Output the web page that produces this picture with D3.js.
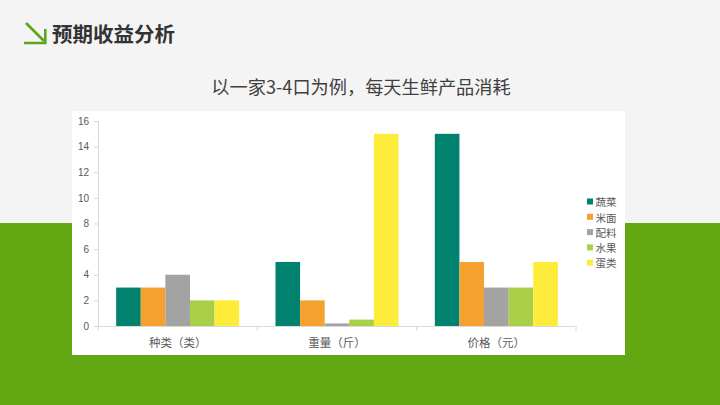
<!DOCTYPE html>
<html><head><meta charset="utf-8">
<script src="https://cdn.jsdelivr.net/npm/d3@7/dist/d3.min.js"></script>
<style>html,body{margin:0;padding:0;background:#f4f4f4;}svg{display:block;font-family:"Noto Sans CJK SC","Noto Sans",sans-serif;}</style>
</head><body>
<svg id="c" width="720" height="405"></svg>
<script>
const categories = ["种类（类）", "重量（斤）", "价格（元）"];
const seriesNames = ["蔬菜", "米面", "配料", "水果", "蛋类"];
const seriesColors = ["#00826f", "#f4a130", "#a3a3a3", "#a9cf48", "#fdec3a"];
const values = [
  [3, 5, 15],     // 蔬菜
  [3, 2, 5],      // 米面
  [4, 0.2, 3],    // 配料
  [2, 0.5, 3],    // 水果
  [2, 15, 5]      // 蛋类
];
const yTicks = [0, 2, 4, 6, 8, 10, 12, 14, 16];
const title = "预期收益分析";
const subtitle = "以一家3-4口为例，每天生鲜产品消耗";

const svg = d3.select("#c");
// background
svg.append("rect").attr("x",0).attr("y",0).attr("width",720).attr("height",405).attr("fill","#f4f4f4");
svg.append("rect").attr("x",0).attr("y",223).attr("width",720).attr("height",182).attr("fill","#63a713");

// icon
const ic = svg.append("g").attr("stroke","#5ea51a").attr("stroke-width",2.6).attr("fill","none");
ic.append("line").attr("x1",26).attr("y1",23).attr("x2",44).attr("y2",41);
ic.append("polyline").attr("points","24,43 45.3,43 45.3,29");

svg.append("text").attr("x",52).attr("y",42).attr("font-size",20.5).attr("font-weight","bold")
  .attr("fill","#333").text(title);
svg.append("text").attr("x",361).attr("y",93.5).attr("text-anchor","middle").attr("font-size",18.2)
  .attr("fill","#404040").text(subtitle);

// panel
svg.append("rect").attr("x",72).attr("y",111).attr("width",553).attr("height",244).attr("fill","#ffffff");

const x0 = d3.scaleBand().domain(categories).range([98,576]).paddingInner(0.228).paddingOuter(0.114);
const x1 = d3.scaleBand().domain(seriesNames).range([0, x0.bandwidth()]).padding(0);
const y = d3.scaleLinear().domain([0,16]).range([326,121]);

// y axis
const ya = svg.append("g").attr("transform","translate(98,0)")
  .call(d3.axisLeft(y).tickValues(yTicks).tickSize(4).tickPadding(5));
ya.select(".domain").attr("stroke","#d9d9d9");
ya.selectAll(".tick line").attr("stroke","#d9d9d9");
ya.selectAll(".tick text").attr("fill","#595959").attr("font-size",10).attr("font-family","Liberation Sans, Arial, sans-serif");

// bars
const groups = svg.append("g");
seriesNames.forEach((s, si) => {
  groups.append("g").attr("fill", seriesColors[si])
    .selectAll("rect").data(categories.map((c, ci) => ({c, v: values[si][ci]})))
    .join("rect")
    .attr("x", d => x0(d.c) + x1(s))
    .attr("width", x1.bandwidth())
    .attr("y", d => y(d.v))
    .attr("height", d => y(0) - y(d.v));
});

// x axis
const xa = svg.append("g").attr("transform","translate(0,326)")
  .call(d3.axisBottom(x0).tickSize(0).tickPadding(13));
xa.select(".domain").attr("stroke","#d9d9d9");
xa.selectAll(".tick text").attr("fill","#595959").attr("font-size",11.5).attr("font-family","Noto Sans CJK SC, sans-serif");
// boundary ticks
const bounds = [98].concat(categories.map(c => x0(c) + x0.bandwidth() + x0.step()*x0.paddingInner()/2));
bounds[bounds.length-1] = 576;
svg.append("g").selectAll("line").data(bounds).join("line")
  .attr("x1", d => d).attr("x2", d => d).attr("y1", 326).attr("y2", 331)
  .attr("stroke","#d9d9d9");

// legend
const lg = svg.append("g").attr("transform","translate(587,202)");
seriesNames.forEach((s, i) => {
  const g = lg.append("g").attr("transform", `translate(0,${i*15.3})`);
  g.append("rect").attr("x",0).attr("y",-3.5).attr("width",6).attr("height",6).attr("fill",seriesColors[i]);
  g.append("text").attr("x",8.5).attr("y",4.2).attr("font-size",10.5).attr("fill","#595959").text(s);
});
</script>
</body></html>
